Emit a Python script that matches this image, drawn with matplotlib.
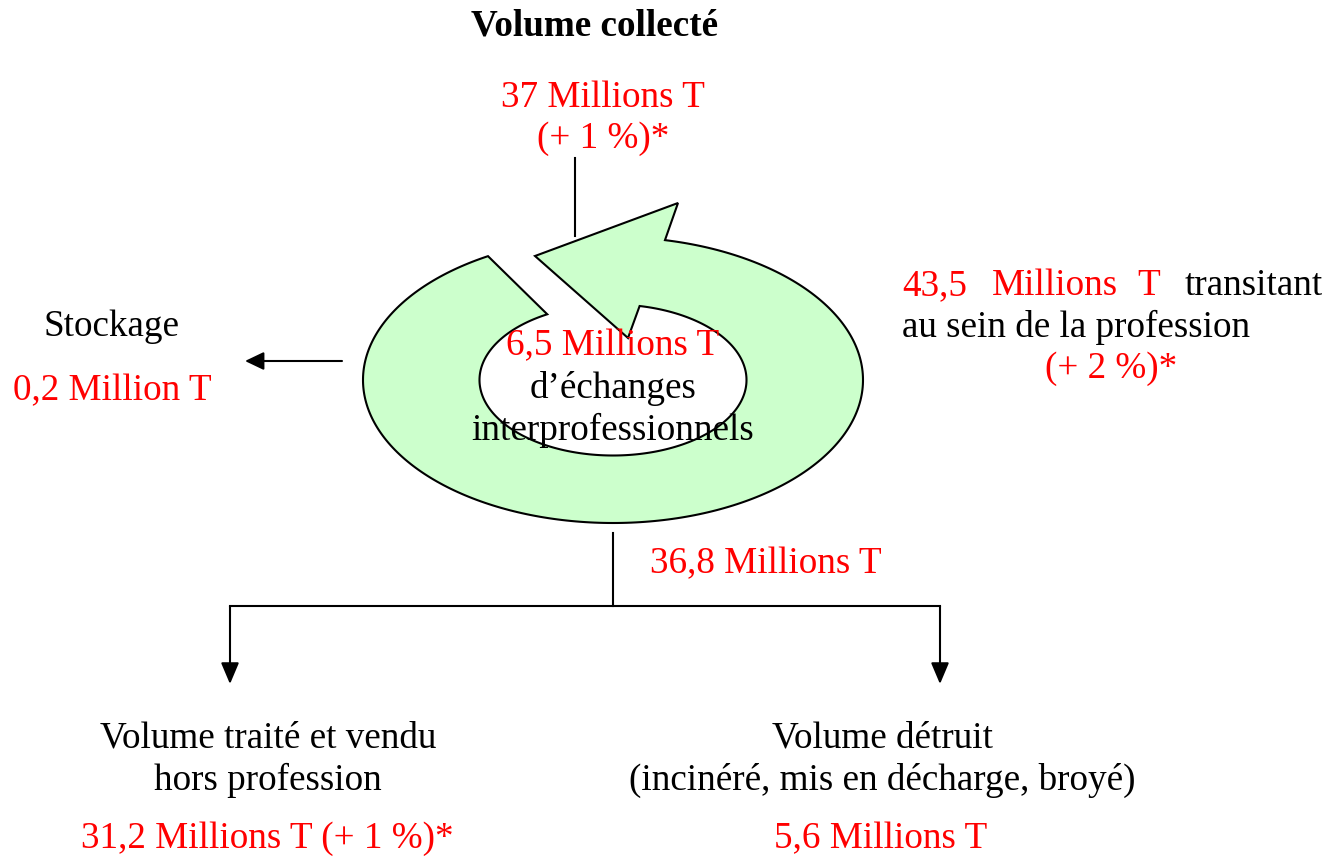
import numpy as np
import matplotlib
matplotlib.use("Agg")
import matplotlib.pyplot as plt
from matplotlib.patches import Polygon

# ---- texts / values ----
title_text = "Volume collecté"
collected_value = ["37 Millions T", "(+ 1 %)*"]
storage_label = "Stockage"
storage_value = "0,2 Million T"
transit_words = ["43,5", "Millions", "T", "transitant"]
transit_colors = ["red", "red", "red", "black"]
transit_line2 = "au sein de la profession"
transit_change = "(+ 2 %)*"
inner_value = "6,5 Millions T"
inner_label = ["d\u2019échanges", "interprofessionnels"]
out_value = "36,8 Millions T"
sold_label = ["Volume traité et vendu", "hors profession"]
sold_value = "31,2 Millions T (+ 1 %)*"
destroyed_label = ["Volume détruit", "(incinéré, mis en décharge, broyé)"]
destroyed_value = "5,6 Millions T"

W, H = 1343, 859
fig = plt.figure(figsize=(W / 100, H / 100), dpi=100)
ax = fig.add_axes([0, 0, 1, 1])
ax.set_xlim(0, W)
ax.set_ylim(H, 0)
ax.axis("off")

FONT = "Liberation Serif"
FS = 26.7
LW = 1.5

def txt(x, y, s, color="black", ha="center", weight="normal"):
    ax.text(x, y, s, color=color, ha=ha, va="baseline", fontsize=FS,
            family=FONT, fontweight=weight)

# ---- ring arrow ----
cx, cy = 613, 380
a_out, b_out = 250, 143
a_in, b_in = 133.5, 75.5
t_out = np.radians(np.linspace(-78, 240, 300))
t_in = np.radians(np.linspace(240.5, -78.5, 300))
outer = np.column_stack([cx + a_out * np.cos(t_out), cy + b_out * np.sin(t_out)])
inner = np.column_stack([cx + a_in * np.cos(t_in), cy + b_in * np.sin(t_in)])
head = np.array([[628, 338], [535, 256], [678, 203]])
pts = np.vstack([outer, inner, head])
ax.add_patch(Polygon(pts, closed=True, facecolor="#CCFFCC", edgecolor="black",
                     lw=LW, joinstyle="miter", zorder=2))

# ---- lines and arrows ----
ax.plot([575, 575], [158, 236], color="black", lw=LW, zorder=1)

def arrow(x0, y0, x1, y1, hl, hw):
    ax.annotate("", xy=(x1, y1), xytext=(x0, y0),
                arrowprops=dict(arrowstyle="-|>,head_length=%.2f,head_width=%.2f" % (hl, hw),
                                color="black", lw=LW, shrinkA=0, shrinkB=0))

arrow(342, 361, 245, 361, 1.15, 0.55)
ax.plot([613, 613], [533, 606], color="black", lw=LW)
ax.plot([230, 940], [606, 606], color="black", lw=LW)
arrow(230, 606, 230, 684, 1.3, 0.55)
arrow(940, 606, 940, 684, 1.3, 0.55)

# ---- texts ----
txt(595, 35, title_text, weight="bold")
txt(603, 107, collected_value[0], color="red")
txt(603, 148, collected_value[1], color="red")

txt(112, 336, storage_label)
txt(112, 400, storage_value, color="red")

transit_x = [902, 992, 1137, 1323]
for x, w, c in zip(transit_x, transit_words, transit_colors):
    txt(x, 295, w, color=c, ha="right" if w == "transitant" else "left")
txt(902, 337, transit_line2, ha="left")
txt(1111, 378, transit_change, color="red")

txt(613, 355, inner_value, color="red")
txt(613, 398, inner_label[0])
txt(613, 440, inner_label[1])

txt(650, 573, out_value, color="red", ha="left")

txt(268, 747, sold_label[0])
txt(268, 790, sold_label[1])
txt(267, 848, sold_value, color="red")

txt(882, 747, destroyed_label[0])
txt(882, 790, destroyed_label[1])
txt(881, 848, destroyed_value, color="red")

fig.savefig("out.png", dpi=100, facecolor="white")
